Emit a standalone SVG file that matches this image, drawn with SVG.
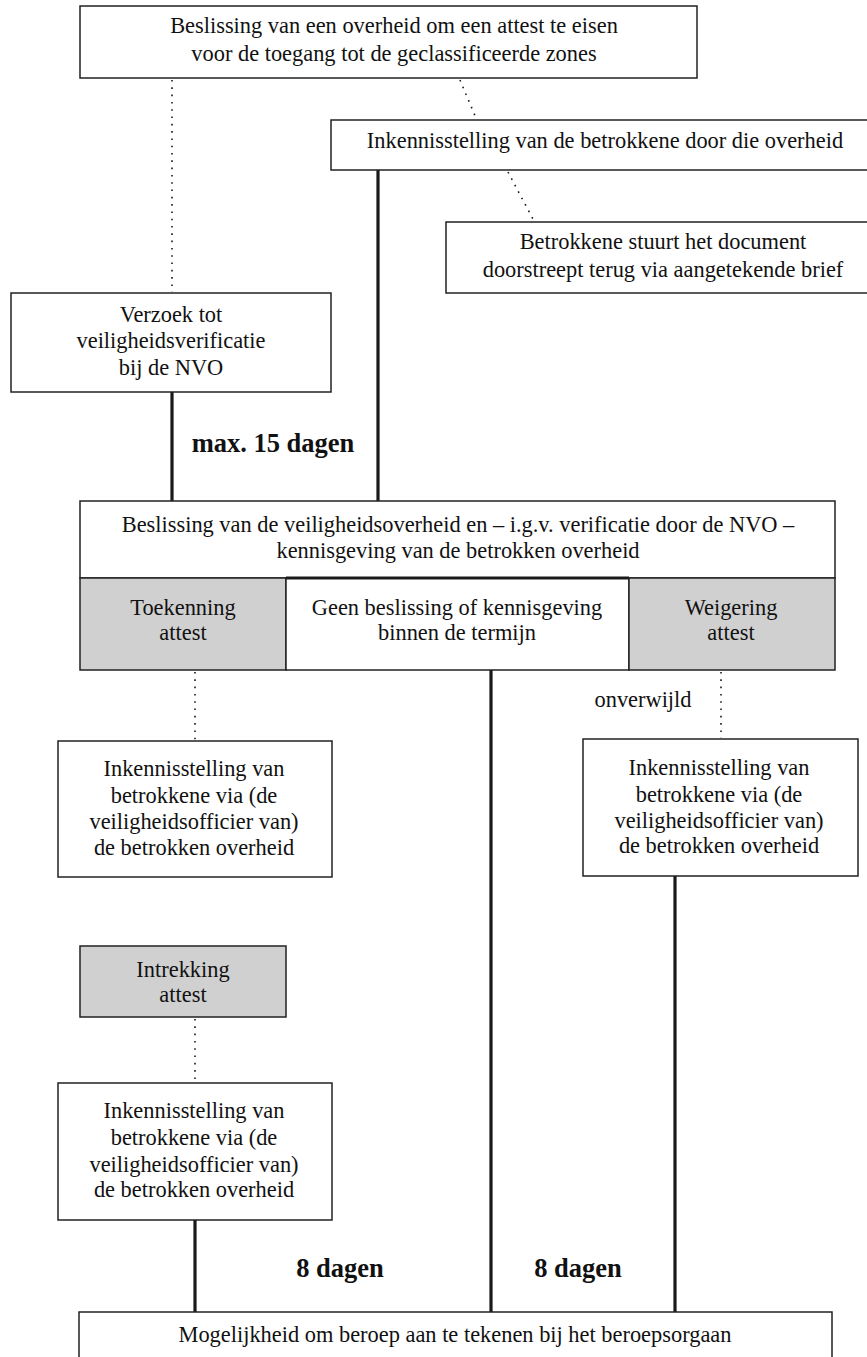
<svg xmlns="http://www.w3.org/2000/svg" width="867" height="1357" viewBox="0 0 867 1357">
<style>
.box{fill:#fff;stroke:#222;stroke-width:1.5}
.gray{fill:#d0d0d0;stroke:#222;stroke-width:1.5}
.t{font-family:"Liberation Serif","Times New Roman",serif;font-size:22.4px;fill:#111;text-anchor:middle}
.b{font-family:"Liberation Serif","Times New Roman",serif;font-size:26.5px;font-weight:bold;fill:#111;text-anchor:middle}
.thick{stroke:#1a1a1a;stroke-width:3.2;fill:none}
.dot{stroke:#1a1a1a;stroke-width:1.6;stroke-dasharray:1.6 5.7;fill:none}
</style>
<rect width="867" height="1357" fill="#fff"/>
<g id="connectors">
<line class="dot" x1="172" y1="80" x2="172" y2="292"/>
<line class="dot" x1="460" y1="80" x2="476" y2="118"/>
<line class="dot" x1="508" y1="172" x2="534" y2="221"/>
<line class="thick" x1="378" y1="170" x2="378" y2="501"/>
<line class="thick" x1="172" y1="392" x2="172" y2="501"/>
<line class="dot" x1="195" y1="672" x2="195" y2="740"/>
<line class="dot" x1="721" y1="672" x2="721" y2="738"/>
<line class="thick" x1="491" y1="670" x2="491" y2="1312"/>
<line class="thick" x1="675" y1="876" x2="675" y2="1312"/>
<line class="dot" x1="195" y1="1019" x2="195" y2="1082"/>
<line class="thick" x1="195" y1="1220" x2="195" y2="1312"/>
<text class="b" x="273" y="452">max. 15 dagen</text>
<text class="t" x="643" y="707">onverwijld</text>
<text class="b" x="340" y="1277">8 dagen</text>
<text class="b" x="578" y="1277">8 dagen</text>
</g>
<g id="n1">
<rect class="box" x="80" y="6" width="617" height="72"/>
<text class="t" x="394" y="33">Beslissing van een overheid om een attest te eisen</text>
<text class="t" x="394" y="61">voor de toegang tot de geclassificeerde zones</text>
</g>
<g id="n2">
<rect class="box" x="331" y="120" width="560" height="50"/>
<text class="t" x="605" y="148">Inkennisstelling van de betrokkene door die overheid</text>
</g>
<g id="n3">
<rect class="box" x="446" y="222" width="440" height="71"/>
<text class="t" x="663" y="249">Betrokkene stuurt het document</text>
<text class="t" x="663" y="277">doorstreept terug via aangetekende brief</text>
</g>
<g id="n4">
<rect class="box" x="11" y="293" width="320" height="99"/>
<text class="t" x="171" y="322">Verzoek tot</text>
<text class="t" x="171" y="348">veiligheidsverificatie</text>
<text class="t" x="171" y="375">bij de NVO</text>
</g>
<g id="n5">
<rect class="box" x="80" y="501" width="755" height="77"/>
<text class="t" x="458" y="532">Beslissing van de veiligheidsoverheid en – i.g.v. verificatie door de NVO –</text>
<text class="t" x="458" y="558">kennisgeving van de betrokken overheid</text>
</g>
<g id="n6">
<rect class="gray" x="80" y="578" width="206" height="92"/>
<text class="t" x="183" y="615">Toekenning</text>
<text class="t" x="183" y="640">attest</text>
</g>
<g id="n7">
<rect class="box" x="286" y="578" width="343" height="92"/>
<line x1="286" y1="578" x2="629" y2="578" stroke="#1a1a1a" stroke-width="3"/>
<text class="t" x="457" y="615">Geen beslissing of kennisgeving</text>
<text class="t" x="457" y="640">binnen de termijn</text>
</g>
<g id="n8">
<rect class="gray" x="629" y="578" width="206" height="92"/>
<text class="t" x="731" y="615">Weigering</text>
<text class="t" x="731" y="640">attest</text>
</g>
<g id="n9">
<rect class="box" x="58" y="741" width="274" height="136"/>
<text class="t" x="194" y="776">Inkennisstelling van</text>
<text class="t" x="194" y="803">betrokkene via (de</text>
<text class="t" x="194" y="829">veiligheidsofficier van)</text>
<text class="t" x="194" y="855">de betrokken overheid</text>
</g>
<g id="n10">
<rect class="box" x="583" y="739" width="275" height="137"/>
<text class="t" x="719" y="775">Inkennisstelling van</text>
<text class="t" x="719" y="802">betrokkene via (de</text>
<text class="t" x="719" y="828">veiligheidsofficier van)</text>
<text class="t" x="719" y="853">de betrokken overheid</text>
</g>
<g id="n11">
<rect class="gray" x="80" y="946" width="206" height="71"/>
<text class="t" x="183" y="977">Intrekking</text>
<text class="t" x="183" y="1002">attest</text>
</g>
<g id="n12">
<rect class="box" x="58" y="1083" width="274" height="137"/>
<text class="t" x="194" y="1118">Inkennisstelling van</text>
<text class="t" x="194" y="1145">betrokkene via (de</text>
<text class="t" x="194" y="1172">veiligheidsofficier van)</text>
<text class="t" x="194" y="1197">de betrokken overheid</text>
</g>
<g id="n13">
<rect class="box" x="79" y="1312" width="753" height="60"/>
<text class="t" x="455" y="1342">Mogelijkheid om beroep aan te tekenen bij het beroepsorgaan</text>
</g>
</svg>
